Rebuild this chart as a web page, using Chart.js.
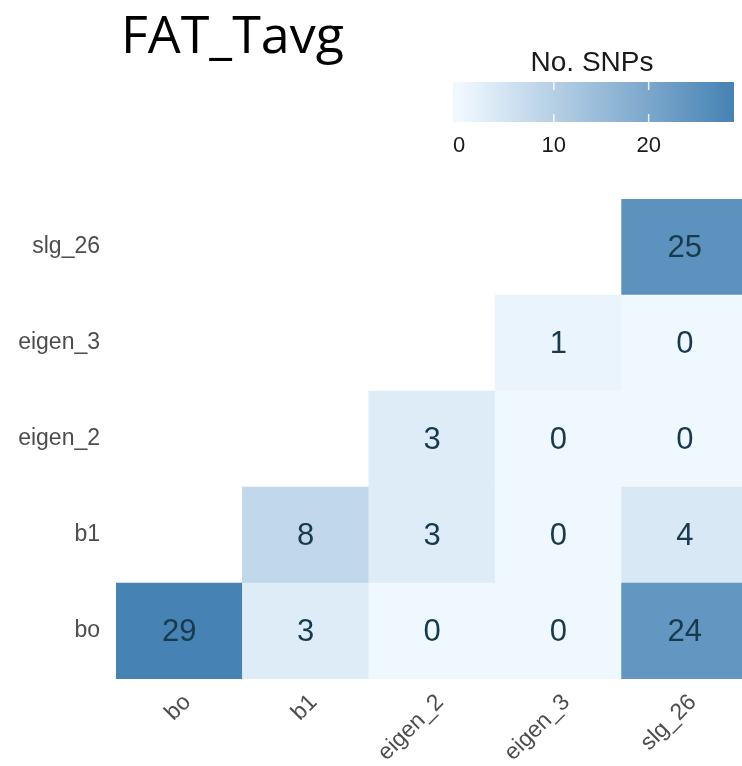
<!DOCTYPE html>
<html>
<head>
<meta charset="utf-8">
<script src="https://cdn.jsdelivr.net/npm/chart.js@4"></script>
<style>
  html, body { margin: 0; padding: 0; background: #fff; overflow: hidden; }
  #wrap { position: absolute; left: 0; top: 0; width: 760px; height: 766px; }
</style>
</head>
<body>
<div id="wrap"><canvas id="heat"></canvas></div>
<script>
const traits = ["bo", "b1", "eigen_2", "eigen_3", "slg_26"];

// one array per row, bottom to top; null = empty (lower triangle)
const snpBo = [29, 3, 0, 0, 24];
const snpB1 = [null, 8, 3, 0, 4];
const snpEigen2 = [null, null, 3, 0, 0];
const snpEigen3 = [null, null, null, 1, 0];
const snpSlg26 = [null, null, null, null, 25];
const rows = [snpBo, snpB1, snpEigen2, snpEigen3, snpSlg26];

const scaleMin = 0;
const scaleMax = 29;
const legendTicks = [0, 10, 20];

const LOW = [240, 248, 255];
const HIGH = [70, 130, 180];

function fillFor(v) {
  const t = (v - scaleMin) / (scaleMax - scaleMin);
  const c = LOW.map((lo, i) => Math.round(lo + (HIGH[i] - lo) * t));
  return `rgb(${c[0]},${c[1]},${c[2]})`;
}

const datasets = rows.map((vals, r) => ({
  label: traits[r],
  data: vals.map((v) => (v === null ? null : [r, r + 1])),
  values: vals,
  backgroundColor: vals.map((v) => (v === null ? "transparent" : fillFor(v))),
  borderWidth: 0,
  barPercentage: 1,
  categoryPercentage: 1,
  grouped: false,
}));

// numbers in the tiles
const cellText = {
  id: "cellText",
  afterDatasetsDraw(chart) {
    const ctx = chart.ctx;
    ctx.save();
    ctx.font = "31px 'Liberation Sans', Arial, sans-serif";
    ctx.fillStyle = "#173a4c";
    ctx.textAlign = "center";
    ctx.textBaseline = "middle";
    chart.data.datasets.forEach((ds, i) => {
      const meta = chart.getDatasetMeta(i);
      meta.data.forEach((bar, j) => {
        const v = ds.values[j];
        if (v === null) return;
        ctx.fillText(String(v), bar.x, (bar.y + bar.base) / 2 + 1);
      });
    });
    ctx.restore();
  },
};

// title + colour bar
const header = {
  id: "header",
  afterDraw(chart) {
    const ctx = chart.ctx;
    ctx.save();
    ctx.fillStyle = "#000";
    ctx.textAlign = "left";
    ctx.textBaseline = "alphabetic";
    ctx.font = "52px 'Open Sans', sans-serif";
    ctx.fillText("FAT_Tavg", 121, 53);

    const x0 = 459, x1 = 734, barL = 453, top = 82, h = 40;
    const grad = ctx.createLinearGradient(x0, 0, x1, 0);
    grad.addColorStop(0, fillFor(scaleMin));
    grad.addColorStop(1, fillFor(scaleMax));
    ctx.fillStyle = fillFor(scaleMin);
    ctx.fillRect(barL, top, x0 - barL, h);
    ctx.fillStyle = grad;
    ctx.fillRect(x0, top, x1 - x0, h);

    ctx.strokeStyle = "rgba(255,255,255,0.85)";
    ctx.lineWidth = 1.5;
    ctx.font = "22px 'Liberation Sans', Arial, sans-serif";
    ctx.textAlign = "center";
    legendTicks.forEach((t) => {
      const x = x0 + ((t - scaleMin) / (scaleMax - scaleMin)) * (x1 - x0);
      if (t > scaleMin) {
        ctx.beginPath();
        ctx.moveTo(x, top); ctx.lineTo(x, top + 8);
        ctx.moveTo(x, top + h - 8); ctx.lineTo(x, top + h);
        ctx.stroke();
      }
      ctx.fillStyle = "#1a1a1a";
      ctx.fillText(String(t), x, 152);
    });

    ctx.font = "28px 'Liberation Sans', Arial, sans-serif";
    ctx.fillStyle = "#1a1a1a";
    ctx.fillText("No. SNPs", 592, 71);
    ctx.restore();
  },
};

new Chart(document.getElementById("heat"), {
  type: "bar",
  data: { labels: traits, datasets },
  options: {
    responsive: true,
    maintainAspectRatio: false,
    animation: false,
    layout: { padding: { top: 199, right: 12, bottom: 0, left: 0 } },
    plugins: { legend: { display: false }, tooltip: { enabled: false } },
    scales: {
      x: {
        grid: { display: false },
        border: { display: false },
        ticks: {
          color: "#4d4d4d",
          font: { family: "'Liberation Sans', Arial, sans-serif", size: 23 },
          minRotation: 45,
          maxRotation: 45,
          padding: 2,
          labelOffset: 8,
        },
        afterFit(scale) { scale.height = 87; },
      },
      y: {
        min: 0,
        max: 5,
        grid: { display: false },
        border: { display: false },
        afterBuildTicks(scale) {
          scale.ticks = traits.map((_, i) => ({ value: i + 0.5 }));
        },
        ticks: {
          color: "#4d4d4d",
          font: { family: "'Liberation Sans', Arial, sans-serif", size: 23 },
          padding: 8,
          callback: (v) => traits[Math.floor(v)],
        },
        afterFit(scale) { scale.width = 116; },
      },
    },
  },
  plugins: [cellText, header],
});
</script>
</body>
</html>
